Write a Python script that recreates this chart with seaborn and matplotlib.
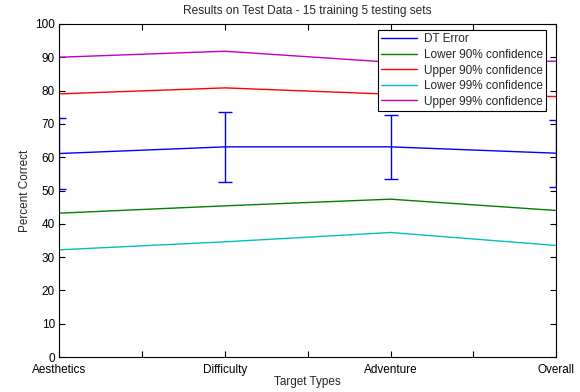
import matplotlib
matplotlib.use("Agg")
import matplotlib.pyplot as plt
import seaborn as sns
import numpy as np
import pandas as pd

categories = ["Aesthetics", "Difficulty", "Adventure", "Overall"]
positions = [1, 2, 3, 4]
dt_error = [61.1, 63.1, 63.1, 61.2]
dt_err_half = [10.6, 10.5, 9.5, 10.0]
lower90 = [43.2, 45.4, 47.4, 44.0]
upper90 = [79.0, 80.8, 78.9, 78.2]
lower99 = [32.2, 34.6, 37.4, 33.5]
upper99 = [90.0, 91.8, 88.5, 88.8]

series = [
    ("DT Error", dt_error, (0, 0, 1)),
    ("Lower 90% confidence", lower90, (0, 0.5, 0)),
    ("Upper 90% confidence", upper90, (1, 0, 0)),
    ("Lower 99% confidence", lower99, (0, 0.75, 0.75)),
    ("Upper 99% confidence", upper99, (0.75, 0, 0.75)),
]

sns.set_theme(style="white")
plt.rcParams['font.family'] = ['Liberation Sans', 'DejaVu Sans']

fig = plt.figure(figsize=(5.8, 3.92), dpi=100)
ax = fig.add_axes([0.102, 0.089, 0.857, 0.85])

for name, vals, col in series:
    df = pd.DataFrame({"x": positions, "y": vals})
    sns.lineplot(data=df, x="x", y="y", ax=ax, color=col, linewidth=1.0, label=name)

ax.errorbar(positions, dt_error, yerr=dt_err_half, fmt="none", ecolor=(0, 0, 1),
            elinewidth=1.0, capsize=5, capthick=1.0)

ax.set_xlim(1, 4)
ax.set_ylim(0, 100)
ax.set_xticks([1, 1.5, 2, 2.5, 3, 3.5, 4])
ax.set_xticklabels(["Aesthetics", "", "Difficulty", "", "Adventure", "", "Overall"])
ax.set_yticks(np.arange(0, 101, 10))
ax.tick_params(direction="in", length=4, width=0.8, top=True, right=True,
               bottom=True, left=True, labelsize=8.5, colors="black")
ax.tick_params(axis="x", pad=5)
ax.tick_params(axis="y", pad=3)
for s in ax.spines.values():
    s.set_color("black")
    s.set_linewidth(0.8)
ax.set_xlabel("Target Types", fontsize=8.5, labelpad=0)
ax.set_ylabel("Percent Correct", fontsize=8.5, labelpad=3)
ax.set_title("Results on Test Data - 15 training 5 testing sets", fontsize=8.6, pad=7)

leg = ax.legend(loc="upper right", bbox_to_anchor=(0.98, 0.982), fontsize=8.5,
                frameon=True, fancybox=False, edgecolor="black", framealpha=1,
                handlelength=3.0, handletextpad=0.6, borderpad=0.3, labelspacing=0.3,
                borderaxespad=0.0)
leg.get_frame().set_linewidth(0.8)

fig.savefig("out.png", dpi=100)
